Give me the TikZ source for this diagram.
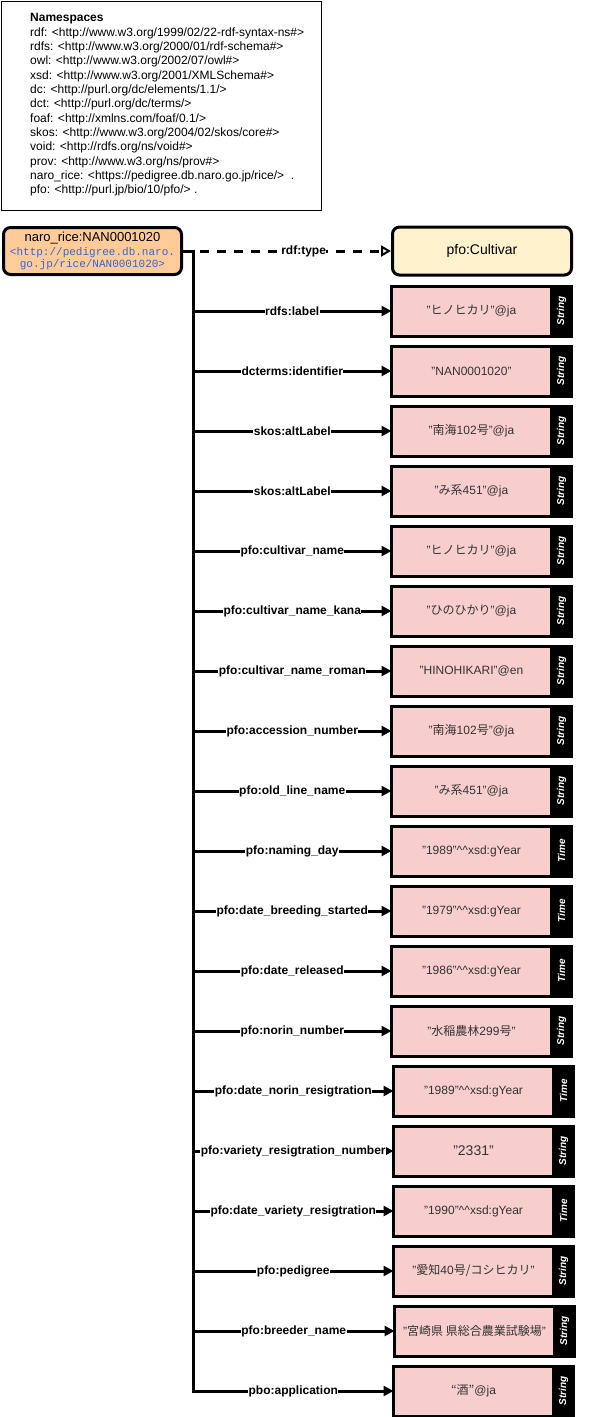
\documentclass[tikz,border=0pt]{standalone}
\usepackage{xcolor}
\usepackage{fontspec}
\setmainfont{Liberation Sans}
\setmonofont{Liberation Mono}
\newfontfamily\ja{Noto Sans CJK JP}
\usepackage{tikz}
\usetikzlibrary{arrows.meta}
\definecolor{subjfill}{RGB}{255,204,153}
\definecolor{classfill}{RGB}{255,242,204}
\definecolor{litfill}{RGB}{248,206,204}
\definecolor{urlblue}{RGB}{51,102,204}
\definecolor{littext}{RGB}{51,51,51}

\begin{document}
\begin{tikzpicture}[x=1pt,y=1pt,yscale=-1,xscale=1,
  subj/.style={draw, line width=3pt, rounded corners=7pt, fill=subjfill, minimum width=178pt, minimum height=47pt, inner sep=0pt, align=center},
  cls/.style={draw, line width=3pt, rounded corners=7pt, fill=classfill, minimum width=179pt, minimum height=48pt, inner sep=0pt, font=\fontsize{14}{16}\selectfont},
  lit/.style={draw, line width=3pt, fill=litfill, minimum width=160pt, minimum height=50pt, inner sep=0pt, outer sep=0pt, text=littext, font=\fontsize{12}{14}\selectfont},
  tag/.style={draw, line width=3pt, fill=black, rotate=90, anchor=north, minimum width=50pt, minimum height=20pt, inner sep=0pt, outer sep=0pt, text=white, font=\fontsize{10}{11}\selectfont\bfseries\itshape},
  rel/.style={line width=3pt, -{Triangle[length=10pt,width=10pt]}},
  typ/.style={line width=3pt, dash pattern=on 9pt off 8pt, -{Triangle[open,length=10pt,width=11pt,line width=2pt,fill=white]}},
  lbl/.style={fill=white, inner sep=0.5pt, font=\fontsize{12}{14}\selectfont\bfseries}]
\useasboundingbox (0,0) rectangle (589,1417);

% Namespaces
\node[draw, line width=1pt, anchor=north west, minimum width=320pt, minimum height=209pt, inner sep=0pt] (ns) at (1,1) {};
\node[anchor=north west, align=left, inner sep=0pt, font=\fontsize{12}{14.33}\selectfont] (nstxt) at (30,13.5) {\textbf{Namespaces}\\
rdf: <http://www.w3.org/1999/02/22-rdf-syntax-ns\#>\\
rdfs: <http://www.w3.org/2000/01/rdf-schema\#>\\
owl: <http://www.w3.org/2002/07/owl\#>\\
xsd: <http://www.w3.org/2001/XMLSchema\#>\\
dc: <http://purl.org/dc/elements/1.1/>\\
dct: <http://purl.org/dc/terms/>\\
foaf: <http://xmlns.com/foaf/0.1/>\\
skos: <http://www.w3.org/2004/02/skos/core\#>\\
void: <http://rdfs.org/ns/void\#>\\
prov: <http://www.w3.org/ns/prov\#>\\
naro\_rice: <https://pedigree.db.naro.go.jp/rice/>\ \ .\\
pfo: <http://purl.jp/bio/10/pfo/> .};

% Text Node
\node[subj] (nr) at (92.5,251) {{\fontsize{13}{15}\selectfont naro\_rice:NAN0001020}\\[1.5pt]
{\fontsize{11}{12.5}\selectfont\ttfamily\color{urlblue}<http://pedigree.db.naro.}\\[0pt]
{\fontsize{11}{12.5}\selectfont\ttfamily\color{urlblue}go.jp/rice/NAN0001020>}};
% Text Node
\node[cls] (cl) at (482,251) {pfo:Cultivar};
\coordinate (br) at (193,251);

% Text Node
\node[lit] (v01) at (471.5,311) {"{\ja ヒノヒカリ}"@ja};
\node[tag] at (v01.east) {String};
\node[lit] (v02) at (471.5,371) {"NAN0001020"};
\node[tag] at (v02.east) {String};
\node[lit] (v03) at (471.5,431) {"{\ja 南海}102{\ja 号}"@ja};
\node[tag] at (v03.east) {String};
\node[lit] (v04) at (471.5,491) {"{\ja み系}451"@ja};
\node[tag] at (v04.east) {String};
\node[lit] (v05) at (471.5,551) {"{\ja ヒノヒカリ}"@ja};
\node[tag] at (v05.east) {String};
\node[lit] (v06) at (471.5,611) {"{\ja ひのひかり}"@ja};
\node[tag] at (v06.east) {String};
\node[lit] (v07) at (471.5,671) {"HINOHIKARI"@en};
\node[tag] at (v07.east) {String};
\node[lit] (v08) at (471.5,731) {"{\ja 南海}102{\ja 号}"@ja};
\node[tag] at (v08.east) {String};
\node[lit] (v09) at (471.5,791) {"{\ja み系}451"@ja};
\node[tag] at (v09.east) {String};
\node[lit] (v10) at (471.5,851) {"1989"\textasciicircum\textasciicircum xsd:gYear};
\node[tag] at (v10.east) {Time};
\node[lit] (v11) at (471.5,911) {"1979"\textasciicircum\textasciicircum xsd:gYear};
\node[tag] at (v11.east) {Time};
\node[lit] (v12) at (471.5,971) {"1986"\textasciicircum\textasciicircum xsd:gYear};
\node[tag] at (v12.east) {Time};
\node[lit] (v13) at (471.5,1031) {"{\ja 水稲農林}299{\ja 号}"};
\node[tag] at (v13.east) {String};
\node[lit] (v14) at (473.5,1091) {"1989"\textasciicircum\textasciicircum xsd:gYear};
\node[tag] at (v14.east) {Time};
\node[lit, font=\fontsize{14}{16}\selectfont] (v15) at (473.5,1151) {"2331"};
\node[tag] at (v15.east) {String};
\node[lit] (v16) at (473.5,1211) {"1990"\textasciicircum\textasciicircum xsd:gYear};
\node[tag] at (v16.east) {Time};
\node[lit] (v17) at (473.5,1271) {"{\ja 愛知}40{\ja 号/コシヒカリ}"};
\node[tag] at (v17.east) {String};
\node[lit] (v18) at (474.5,1331) {"{\ja 宮崎県 県総合農業試験場}"};
\node[tag] at (v18.east) {String};
\node[lit] (v19) at (473.5,1391) {{\ja “酒”}@ja};
\node[tag] at (v19.east) {String};

%Straight Lines
\draw[typ] (nr.east) -- (cl.west) node[lbl,pos=0.58] {rdf:type};
\draw[rel] (nr.east) -- (br) |- (v01.west) node[lbl,pos=0.75] {rdfs:label};
\draw[rel] (nr.east) -- (br) |- (v02.west) node[lbl,pos=0.75] {dcterms:identifier};
\draw[rel] (nr.east) -- (br) |- (v03.west) node[lbl,pos=0.75] {skos:altLabel};
\draw[rel] (nr.east) -- (br) |- (v04.west) node[lbl,pos=0.75] {skos:altLabel};
\draw[rel] (nr.east) -- (br) |- (v05.west) node[lbl,pos=0.75] {pfo:cultivar\_name};
\draw[rel] (nr.east) -- (br) |- (v06.west) node[lbl,pos=0.75] {pfo:cultivar\_name\_kana};
\draw[rel] (nr.east) -- (br) |- (v07.west) node[lbl,pos=0.75] {pfo:cultivar\_name\_roman};
\draw[rel] (nr.east) -- (br) |- (v08.west) node[lbl,pos=0.75] {pfo:accession\_number};
\draw[rel] (nr.east) -- (br) |- (v09.west) node[lbl,pos=0.75] {pfo:old\_line\_name};
\draw[rel] (nr.east) -- (br) |- (v10.west) node[lbl,pos=0.75] {pfo:naming\_day};
\draw[rel] (nr.east) -- (br) |- (v11.west) node[lbl,pos=0.75] {pfo:date\_breeding\_started};
\draw[rel] (nr.east) -- (br) |- (v12.west) node[lbl,pos=0.75] {pfo:date\_released};
\draw[rel] (nr.east) -- (br) |- (v13.west) node[lbl,pos=0.75] {pfo:norin\_number};
\draw[rel] (nr.east) -- (br) |- (v14.west) node[lbl,pos=0.75] {pfo:date\_norin\_resigtration};
\draw[rel] (nr.east) -- (br) |- (v15.west) node[lbl,pos=0.75] {pfo:variety\_resigtration\_number};
\draw[rel] (nr.east) -- (br) |- (v16.west) node[lbl,pos=0.75] {pfo:date\_variety\_resigtration};
\draw[rel] (nr.east) -- (br) |- (v17.west) node[lbl,pos=0.75] {pfo:pedigree};
\draw[rel] (nr.east) -- (br) |- (v18.west) node[lbl,pos=0.75] {pfo:breeder\_name};
\draw[rel] (nr.east) -- (br) |- (v19.west) node[lbl,pos=0.75] {pbo:application};

\end{tikzpicture}
\end{document}
